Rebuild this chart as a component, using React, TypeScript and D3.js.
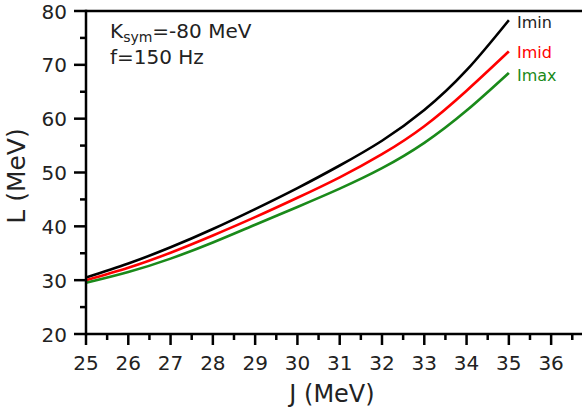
import React from "react";
import * as d3 from "d3";

const J = [25, 26, 27, 28, 29, 30, 31, 32, 33, 34, 35];
const Imin = [30.5, 33.1, 36.1, 39.5, 43.2, 47.1, 51.3, 55.9, 61.6, 69.0, 78.3];
const Imid = [30.0, 32.3, 35.1, 38.3, 41.7, 45.3, 49.1, 53.4, 58.6, 65.2, 72.5];
const Imax = [29.5, 31.5, 34.0, 37.0, 40.3, 43.6, 47.0, 50.8, 55.5, 61.5, 68.5];

const xTicks = [25, 26, 27, 28, 29, 30, 31, 32, 33, 34, 35, 36];
const xMinor = [25.5, 26.5, 27.5, 28.5, 29.5, 30.5, 31.5, 32.5, 33.5, 34.5, 35.5, 36.5];
const yTicks = [20, 30, 40, 50, 60, 70, 80];
const yMinor = [25, 35, 45, 55, 65, 75];

const series = [
  { name: "Imin", values: Imin, color: "#000000", labelY: 28 },
  { name: "Imid", values: Imid, color: "#ff0000", labelY: 58 },
  { name: "Imax", values: Imax, color: "#1a8a1a", labelY: 81 },
];

const FONT = "DejaVu Sans, sans-serif";

export default function App() {
  const x = d3.scaleLinear().domain([25, 36.73]).range([86, 582]);
  const y = d3.scaleLinear().domain([20, 80]).range([334, 11]);
  const line = d3
    .line<number>()
    .x((_, i) => x(J[i]))
    .y((d) => y(d))
    .curve(d3.curveNatural);
  const textColor = "#222";
  return (
    <svg
      width={582}
      height={412}
      style={{ position: "absolute", left: 0, top: 0, background: "#fff" }}
    >
      <rect x={0} y={0} width={582} height={412} fill="#fff" />
      {series.map((s) => (
        <path
          key={s.name}
          d={line(s.values) || ""}
          fill="none"
          stroke={s.color}
          strokeWidth={2.6}
        />
      ))}
      {series.map((s) => (
        <text
          key={s.name + "l"}
          x={517}
          y={s.labelY}
          fontFamily={FONT}
          fontSize={16}
          fill={s.color === "#000000" ? textColor : s.color}
        >
          {s.name}
        </text>
      ))}
      {/* spines */}
      <line x1={86} x2={582} y1={334} y2={334} stroke="#000" strokeWidth={2.5} />
      <line x1={86} x2={582} y1={11} y2={11} stroke="#000" strokeWidth={2.5} />
      <line x1={86} x2={86} y1={9.75} y2={335.25} stroke="#000" strokeWidth={2.5} />
      {/* x ticks */}
      {xTicks.map((t) => (
        <g key={"xt" + t}>
          <line x1={x(t)} x2={x(t)} y1={334} y2={345} stroke="#000" strokeWidth={2.5} />
          <text
            x={x(t)}
            y={370}
            textAnchor="middle"
            fontFamily={FONT}
            fontSize={20}
            fill={textColor}
          >
            {t}
          </text>
        </g>
      ))}
      {xMinor.map((t) => (
        <line key={"xm" + t} x1={x(t)} x2={x(t)} y1={334} y2={340} stroke="#000" strokeWidth={2.5} />
      ))}
      {/* y ticks */}
      {yTicks.map((t) => (
        <g key={"yt" + t}>
          <line x1={74} x2={86} y1={y(t)} y2={y(t)} stroke="#000" strokeWidth={2.5} />
          <text
            x={67}
            y={y(t) + 7.5}
            textAnchor="end"
            fontFamily={FONT}
            fontSize={20}
            fill={textColor}
          >
            {t}
          </text>
        </g>
      ))}
      {yMinor.map((t) => (
        <line key={"ym" + t} x1={80} x2={86} y1={y(t)} y2={y(t)} stroke="#000" strokeWidth={2.5} />
      ))}
      {/* axis labels */}
      <text
        x={332}
        y={402}
        textAnchor="middle"
        fontFamily={FONT}
        fontSize={24}
        fill={textColor}
      >
        J (MeV)
      </text>
      <text
        transform="translate(25,176) rotate(-90)"
        textAnchor="middle"
        fontFamily={FONT}
        fontSize={25}
        fill={textColor}
      >
        L (MeV)
      </text>
      {/* annotation */}
      <text x={110} y={38} fontFamily={FONT} fontSize={20} fill={textColor}>
        K
        <tspan fontSize={14} dy={4}>sym</tspan>
        <tspan dy={-4}>=-80 MeV</tspan>
      </text>
      <text x={110} y={64} fontFamily={FONT} fontSize={20} fill={textColor}>
        f=150 Hz
      </text>
    </svg>
  );
}
